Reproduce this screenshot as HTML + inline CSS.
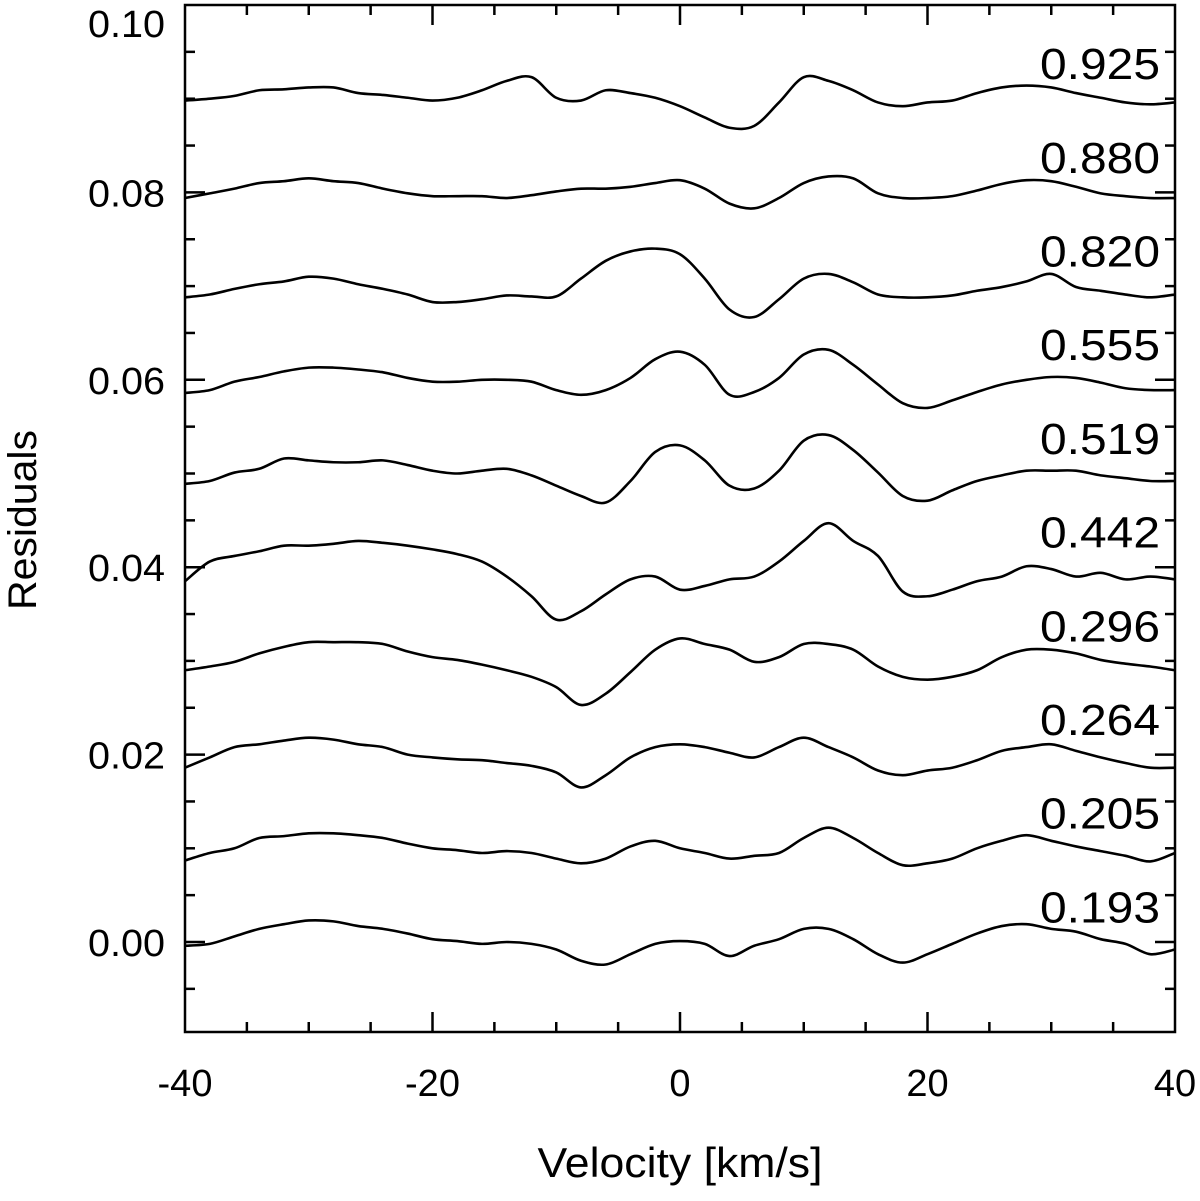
<!DOCTYPE html>
<html><head><meta charset="utf-8"><style>
html,body{margin:0;padding:0;background:#fff;}
svg text{font-family:"Liberation Sans",Arial,sans-serif;fill:#000;}
</style></head><body>
<svg id="chart" width="1200" height="1196" viewBox="0 0 1200 1196" xmlns="http://www.w3.org/2000/svg">
<g id="ticks"></g>
<g id="curves"></g>
<g id="labels"></g>
<rect x="185" y="5" width="990" height="1027" fill="none" stroke="#000" stroke-width="2.5"/>
<text x="680" y="1177" font-size="42" text-anchor="middle" textLength="285" lengthAdjust="spacingAndGlyphs">Velocity [km/s]</text>
<text transform="translate(36,520) rotate(-90)" font-size="40" text-anchor="middle" textLength="180" lengthAdjust="spacingAndGlyphs">Residuals</text>
</svg>
<script>
const velocities = [-40,-38,-36,-34,-32,-30,-28,-26,-24,-22,-20,-18,-16,-14,-12,-10,-8,-6,-4,-2,0,2,4,6,8,10,12,14,16,18,20,22,24,26,28,30,32,34,36,38,40];
const phases = ["0.193","0.205","0.264","0.296","0.442","0.519","0.555","0.820","0.880","0.925"];
const offsets = [0.00,0.01,0.02,0.03,0.04,0.05,0.06,0.07,0.08,0.09];
// residuals relative to offset, in units of 1e-3
const s0193 = [-0.4,-0.2,0.6,1.4,1.9,2.3,2.2,1.7,1.4,0.9,0.3,0.1,-0.2,0,-0.2,-0.8,-2.0,-2.4,-1.3,-0.2,0.1,-0.2,-1.5,-0.4,0.3,1.4,1.4,0.3,-1.3,-2.2,-1.3,-0.2,0.9,1.7,1.9,1.4,1.1,0.3,-0.2,-1.3,-0.8];
const s0205 = [-1.3,-0.5,0,1.1,1.3,1.6,1.6,1.4,1.1,0.5,0,-0.2,-0.5,-0.3,-0.5,-1.1,-1.6,-1.1,0.2,0.8,0,-0.5,-1.1,-0.8,-0.5,1.1,2.2,1.1,-0.5,-1.8,-1.6,-1.1,0,0.8,1.4,0.8,0.2,-0.3,-0.8,-1.4,-0.5];
const s0264 = [-1.4,-0.3,0.8,1.1,1.5,1.8,1.6,1.1,0.8,0,-0.3,-0.5,-0.6,-0.9,-1.2,-1.9,-3.5,-2.2,-0.3,0.8,1.1,0.8,0.2,-0.3,0.8,1.8,0.8,-0.3,-1.7,-2.2,-1.7,-1.4,-0.6,0.4,0.8,1.1,0.4,-0.3,-0.9,-1.4,-1.4];
const s0296 = [-1.0,-0.6,-0.1,0.8,1.5,2.0,2.0,2.0,1.8,1.0,0.4,0.1,-0.4,-1.0,-1.7,-2.8,-4.7,-3.5,-1.2,1.2,2.4,1.8,1.2,-0.1,0.4,1.8,1.8,1.2,-0.6,-1.7,-2.0,-1.7,-1.0,0.4,1.2,1.2,0.8,0.1,-0.3,-0.6,-1.0];
const s0442 = [-1.5,0.6,1.2,1.7,2.3,2.3,2.5,2.8,2.6,2.3,1.9,1.4,0.6,-1.0,-3.1,-5.6,-4.7,-2.9,-1.3,-1.0,-2.4,-2.0,-1.3,-1.0,0.6,2.8,4.7,2.8,1.2,-2.6,-3.1,-2.4,-1.5,-1.0,0.1,-0.2,-1.0,-0.6,-1.3,-1.0,-1.3];
const s0519 = [-1.1,-0.8,0.1,0.5,1.6,1.4,1.2,1.2,1.4,0.9,0.3,0,0.3,0.5,-0.2,-1.3,-2.4,-3.1,-0.8,2.3,3.0,1.4,-1.3,-1.6,0.3,3.5,4.1,2.5,0.1,-2.4,-2.9,-1.8,-0.8,-0.2,0.3,0.3,0.3,-0.2,-0.5,-0.8,-0.8];
const s0555 = [-1.4,-1.1,-0.2,0.3,0.9,1.3,1.3,1.1,0.8,0.2,-0.2,-0.2,0,0,-0.2,-1.1,-1.6,-1.1,0.2,2.2,3.0,1.6,-1.6,-1.3,0.2,2.7,3.2,1.6,-0.5,-2.5,-3.0,-2.2,-1.3,-0.5,0,0.3,0.2,-0.3,-0.9,-1.1,-1.1];
const s0820 = [-1.2,-0.9,-0.3,0.2,0.5,1.0,0.8,0.2,-0.3,-0.9,-1.7,-1.7,-1.4,-1.0,-1.1,-1.1,0.8,2.7,3.7,4.0,3.4,0.8,-2.5,-3.3,-1.4,0.8,1.3,0.4,-0.9,-1.2,-1.2,-1.0,-0.5,-0.1,0.5,1.3,-0.1,-0.5,-0.9,-1.2,-0.9];
const s0880 = [-0.6,-0.1,0.4,1.0,1.2,1.5,1.2,1.0,0.4,-0.1,-0.4,-0.4,-0.4,-0.6,-0.3,0.1,0.4,0.4,0.6,1.0,1.3,0.4,-1.2,-1.7,-0.6,1.0,1.7,1.5,-0.1,-0.6,-0.6,-0.4,0.2,0.9,1.3,1.2,0.6,-0.1,-0.4,-0.6,-0.6];
const s0925 = [-0.2,0,0.3,0.9,1.0,1.2,1.2,0.6,0.4,0.1,-0.2,0.1,0.9,1.9,2.3,0.1,-0.2,0.9,0.6,0.1,-0.8,-2.0,-3.1,-2.9,-0.4,2.3,1.9,0.9,-0.4,-0.8,-0.4,-0.2,0.6,1.2,1.4,1.2,0.6,0.1,-0.4,-0.6,-0.4];
const series = [s0193,s0205,s0264,s0296,s0442,s0519,s0555,s0820,s0880,s0925];
const yTickValues = [0.00,0.02,0.04,0.06,0.08,0.10];
const yTickLabels = ["0.00","0.02","0.04","0.06","0.08","0.10"];
const xTickValues = [-40,-20,0,20,40];
const xTickLabels = ["-40","-20","0","20","40"];

const NS = "http://www.w3.org/2000/svg";
const X0 = 185, X1 = 1175, YT = 5, YB = 1032;
const xs = v => X0 + (v + 40) / 80 * (X1 - X0);
const ys = v => 942 - v * 9370;
function mk(tag, attrs, parent) {
  const e = document.createElementNS(NS, tag);
  for (const k in attrs) e.setAttribute(k, attrs[k]);
  parent.appendChild(e);
  return e;
}
const tg = document.getElementById('ticks');
for (let i = -1; i <= 20; i++) {
  const v = i * 0.005;
  const y = ys(v);
  if (y < YT + 1 || y > YB - 1) continue;
  const major = i % 4 === 0;
  const L = major ? 20 : 10;
  const a = mk('line', {x1: X0, x2: X0 + L, y1: y, y2: y, stroke: '#000', 'stroke-width': 2.5}, tg);
  
  
  const b = mk('line', {x1: X1, x2: X1 - L, y1: y, y2: y, stroke: '#000', 'stroke-width': 2.5}, tg);
  
  
}
yTickValues.forEach((v, i) => {
  let y = ys(v) + 14;
  if (y < 37) y = 37;
  const t = mk('text', {x: 165, y: y, 'font-size': 38, 'text-anchor': 'end', textLength: 77, lengthAdjust: 'spacingAndGlyphs'}, tg);
  t.textContent = yTickLabels[i];
  
  
});
for (let v = -35; v <= 35; v += 5) {
  const x = xs(v);
  const L = v % 20 === 0 ? 20 : 10;
  const a = mk('line', {x1: x, x2: x, y1: YB, y2: YB - L, stroke: '#000', 'stroke-width': 2.5}, tg);
  
  
  const b = mk('line', {x1: x, x2: x, y1: YT, y2: YT + L, stroke: '#000', 'stroke-width': 2.5}, tg);
  
  
}
xTickValues.forEach((v, i) => {
  const t = mk('text', {x: Math.min(xs(v), 1177), y: 1096, 'font-size': 38, 'text-anchor': 'middle'}, tg);
  t.textContent = xTickLabels[i];
  
  
});
const cg = document.getElementById('curves');
const lg = document.getElementById('labels');
series.forEach((s, k) => {
  const pts = s.map((d, i) => [xs(velocities[i]), ys(offsets[k] + d * 0.001)]);
  let d = 'M' + pts[0][0].toFixed(2) + ',' + pts[0][1].toFixed(2);
  for (let i = 0; i < pts.length - 1; i++) {
    const p0 = pts[Math.max(0, i - 1)], p1 = pts[i], p2 = pts[i + 1], p3 = pts[Math.min(pts.length - 1, i + 2)];
    const c1x = p1[0] + (p2[0] - p0[0]) / 6, c1y = p1[1] + (p2[1] - p0[1]) / 6;
    const c2x = p2[0] - (p3[0] - p1[0]) / 6, c2y = p2[1] - (p3[1] - p1[1]) / 6;
    d += ' C' + c1x.toFixed(2) + ',' + c1y.toFixed(2) + ' ' + c2x.toFixed(2) + ',' + c2y.toFixed(2) + ' ' + p2[0].toFixed(2) + ',' + p2[1].toFixed(2);
  }
  const p = mk('path', {d: d, fill: 'none', stroke: '#000', 'stroke-width': 2.6, 'stroke-linejoin': 'round'}, cg);
  
  
  const t = mk('text', {x: 1160, y: ys(offsets[k] + 0.0038) + 16, 'font-size': 44, 'text-anchor': 'end', textLength: 120, lengthAdjust: 'spacingAndGlyphs'}, lg);
  t.textContent = phases[k];
  
  
});
</script>
</body></html>
